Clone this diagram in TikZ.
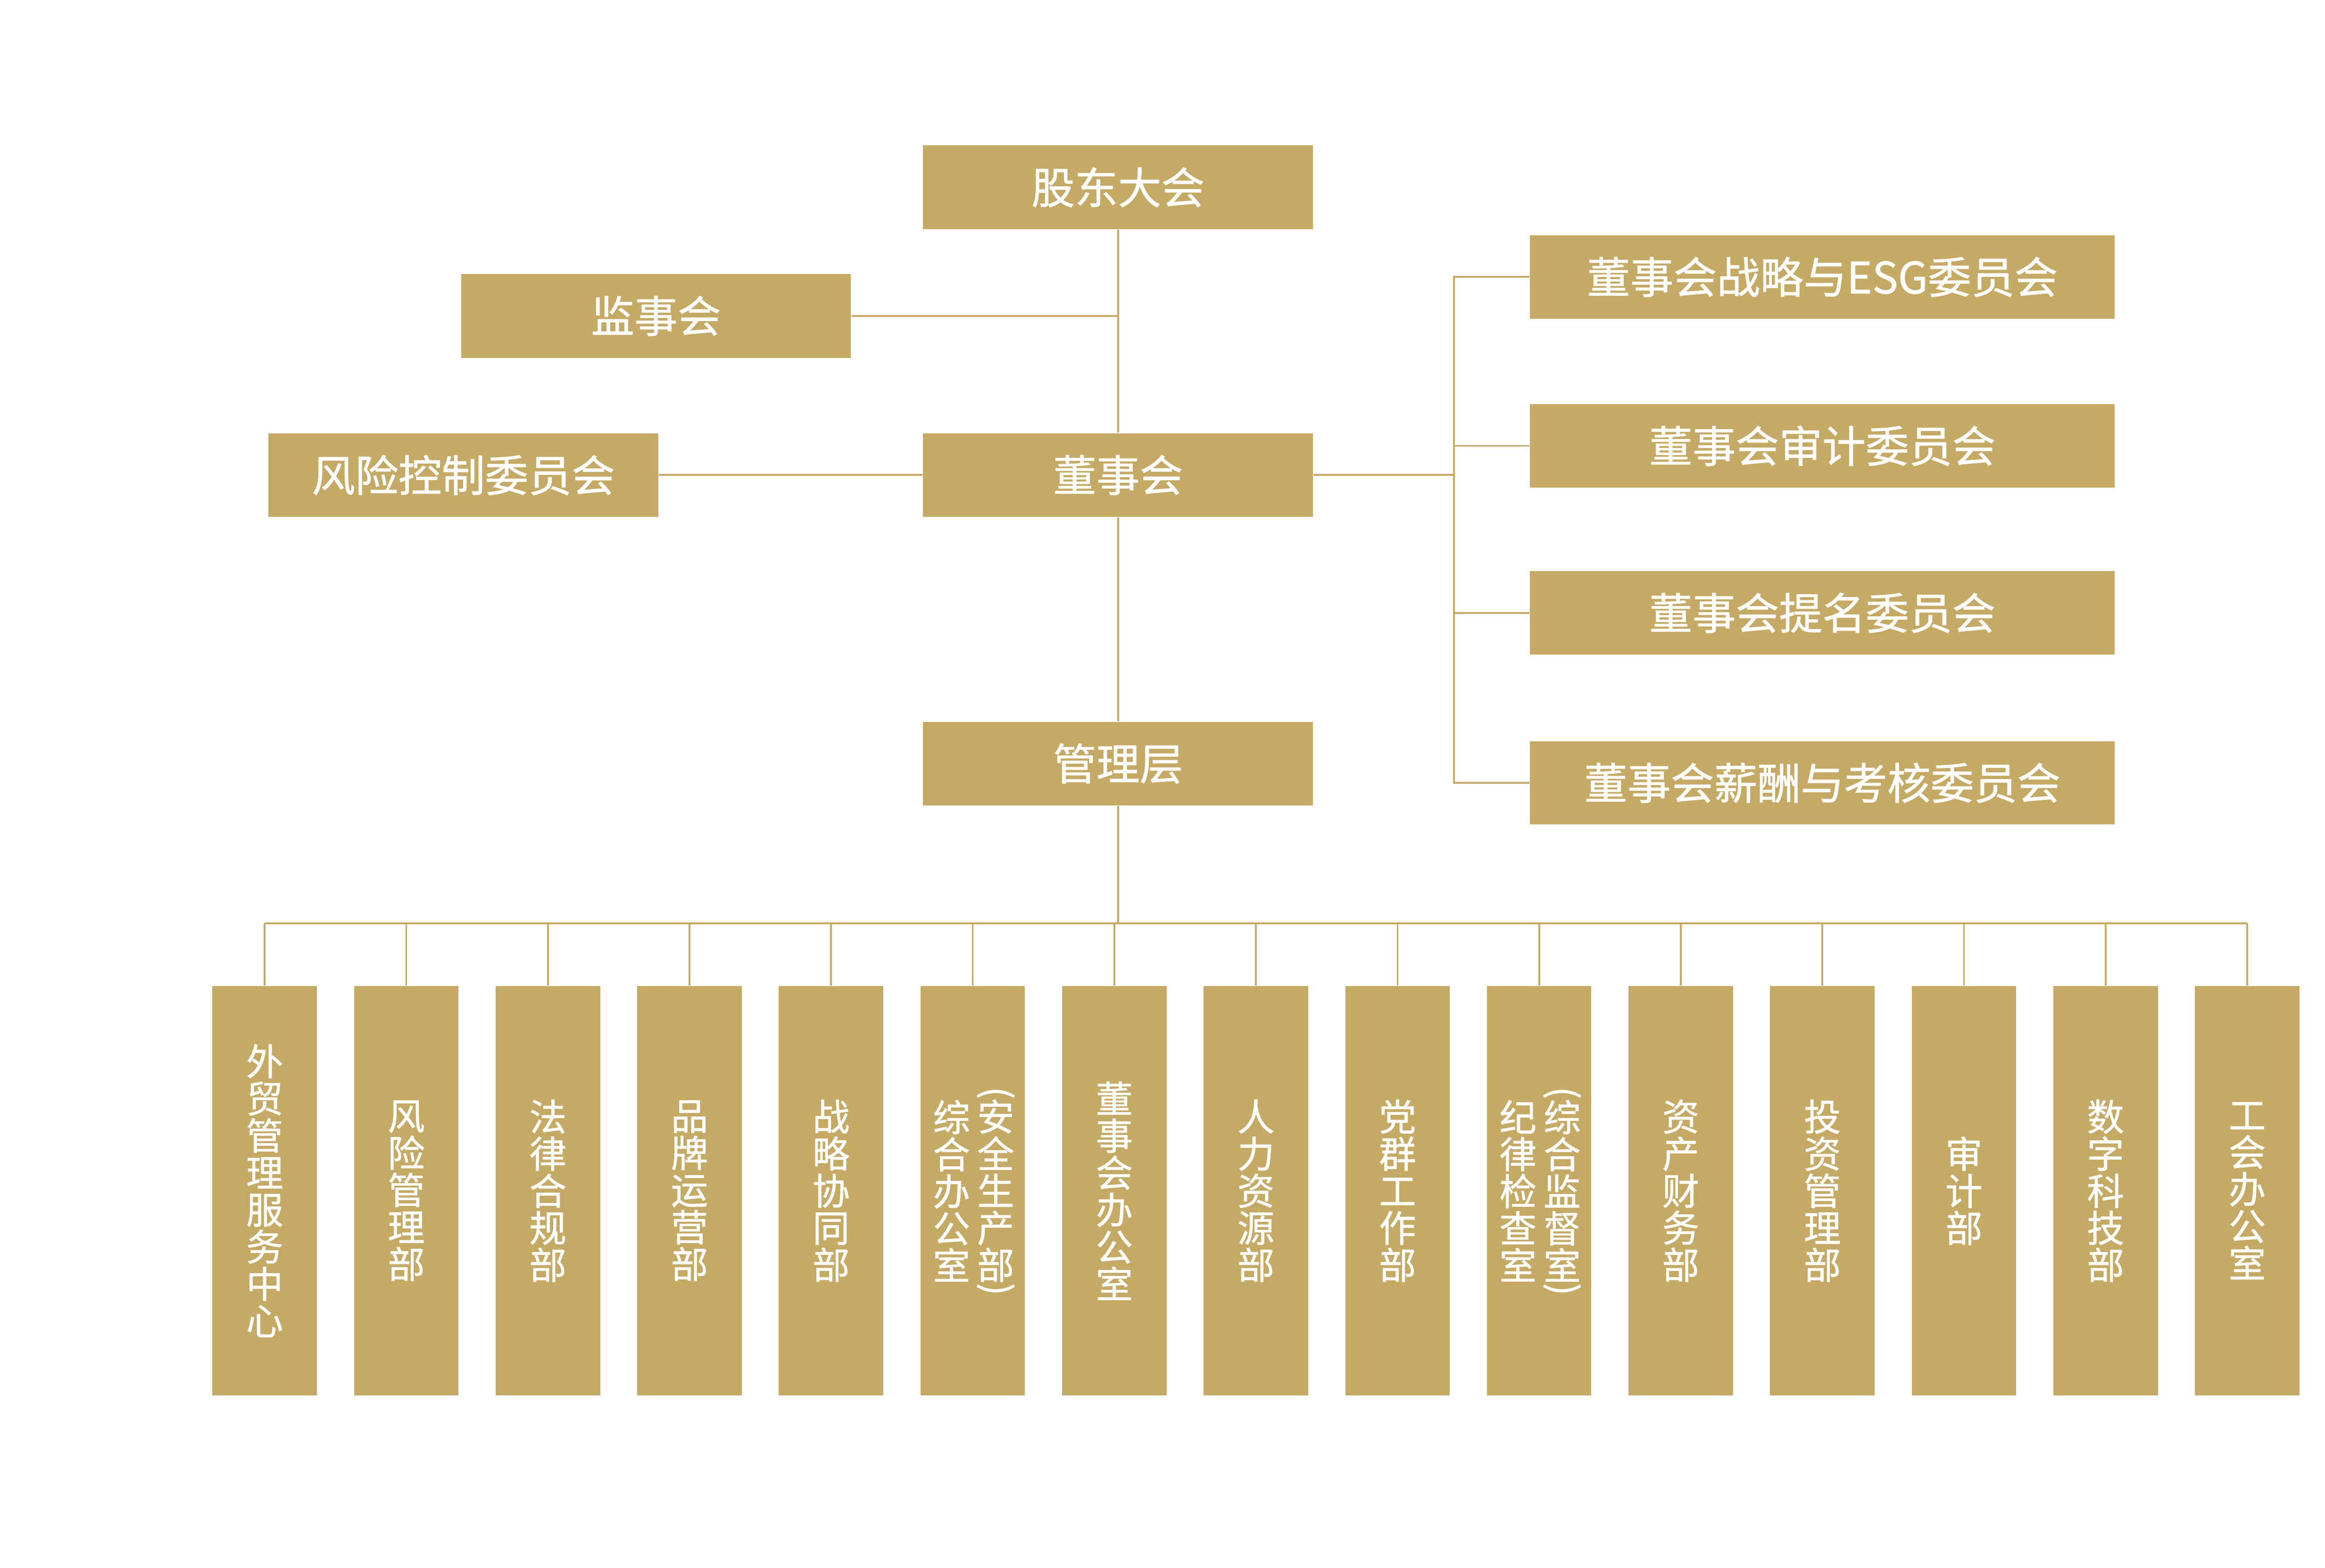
\documentclass[tikz,border=0pt]{standalone}
\usepackage{fontspec}
\newfontfamily\cjk{Noto Sans CJK SC}[RawFeature={embolden=1}]
\usetikzlibrary{calc}
\definecolor{gold}{RGB}{197,170,102}
\begin{document}
\begin{tikzpicture}[x=0.5pt,y=-0.5pt,
  hbox/.style={fill=gold,draw=none,inner sep=0pt,text=white,
    font=\cjk\fontsize{14.6pt}{16pt}\selectfont,
    minimum width=131.5pt,minimum height=28.2pt},
  cbox/.style={hbox,minimum width=197.15pt,minimum height=28.1pt},
  vfont/.style={font=\cjk\fontsize{12.5pt}{12.5pt}\selectfont},
  dept/.style={fill=gold,draw=none,inner sep=0pt,text=white,vfont,align=center,
    minimum width=35.25pt,minimum height=137.9pt},
  vt/.style={inner sep=0pt,text=white,vfont,align=center},
  conn/.style={draw=gold,line width=0.6pt}]
\fill[white] (0,0) rectangle (1568,1057.5);
\useasboundingbox (0,0) rectangle (1568,1057.5);

% top levels
\node[hbox] (gd) at (754,126.3) {股东大会};
\node[hbox] (js) at (442.4,213.1) {监事会};
\node[hbox] (db) at (754,320.4) {董事会};
\node[hbox] (fx) at (312.5,320.4) {风险控制委员会};
\node[hbox] (gl) at (754,515) {管理层};

% committees
\node[cbox] (c1) at (1229,186.8) {董事会战略与ESG委员会};
\node[cbox] (c2) at (1229,300.7) {董事会审计委员会};
\node[cbox] (c3) at (1229,413.4) {董事会提名委员会};
\node[cbox] (c4) at (1229,528) {董事会薪酬与考核委员会};

% departments
\node[dept] (d1) at (178.5,803.1) {外\\贸\\管\\理\\服\\务\\中\\心};
\node[dept] (d2) at (274.0,803.1) {风\\险\\管\\理\\部};
\node[dept] (d3) at (369.5,803.1) {法\\律\\合\\规\\部};
\node[dept] (d4) at (465.0,803.1) {品\\牌\\运\\营\\部};
\node[dept] (d5) at (560.5,803.1) {战\\略\\协\\同\\部};
\node[dept] (d6) at (656.0,803.1) {};
\node[dept] (d7) at (751.5,803.1) {董\\事\\会\\办\\公\\室};
\node[dept] (d8) at (847.0,803.1) {人\\力\\资\\源\\部};
\node[dept] (d9) at (942.5,803.1) {党\\群\\工\\作\\部};
\node[dept] (d10) at (1038.0,803.1) {};
\node[dept] (d11) at (1133.5,803.1) {资\\产\\财\\务\\部};
\node[dept] (d12) at (1229.0,803.1) {投\\资\\管\\理\\部};
\node[dept] (d13) at (1324.5,803.1) {审\\计\\部};
\node[dept] (d14) at (1420.0,803.1) {数\\字\\科\\技\\部};
\node[dept] (d15) at (1515.5,803.1) {工\\会\\办\\公\\室};

% two-column labels
\node[vt] (d6l) at ($(d6.center)+(-14.3,0)$) {综\\合\\办\\公\\室};
\node[vt] (d6r) at ($(d6.center)+(15.5,0)$) {安\\全\\生\\产\\部};
\node[vt,rotate=-90] (d6pa) at ($(d6.center)+(15.5,-66)$) {(};
\node[vt,rotate=-90] (d6pb) at ($(d6.center)+(15.5,66.5)$) {)};
\node[vt] (d10l) at ($(d10.center)+(-14.3,0)$) {纪\\律\\检\\查\\室};
\node[vt] (d10r) at ($(d10.center)+(15.5,0)$) {综\\合\\监\\督\\室};
\node[vt,rotate=-90] (d10pa) at ($(d10.center)+(15.5,-66)$) {(};
\node[vt,rotate=-90] (d10pb) at ($(d10.center)+(15.5,66.5)$) {)};

% connectors
\draw[conn] (gd.south) -- (db.north);
\draw[conn] (js.east) -- (js.east -| gd.south);
\draw[conn] (fx.east) -- (db.west);
\draw[conn] (db.south) -- (gl.north);
\coordinate (bx) at (980.5,320.4);
\draw[conn] (db.east) -- (bx);
\draw[conn] (c1.west) -- (c1.west -| bx) -- (c4.west -| bx) -- (c4.west);
\draw[conn] (c2.west) -- (c2.west -| bx);
\draw[conn] (c3.west) -- (c3.west -| bx);
\coordinate (bus) at (754,622.8);
\draw[conn] (gl.south) -- (bus);
\draw[conn] (d1.north |- bus) -- (d15.north |- bus);
\foreach \i in {1,...,15}{
  \draw[conn] (d\i.north) -- (d\i.north |- bus);
}
\end{tikzpicture}
\end{document}
